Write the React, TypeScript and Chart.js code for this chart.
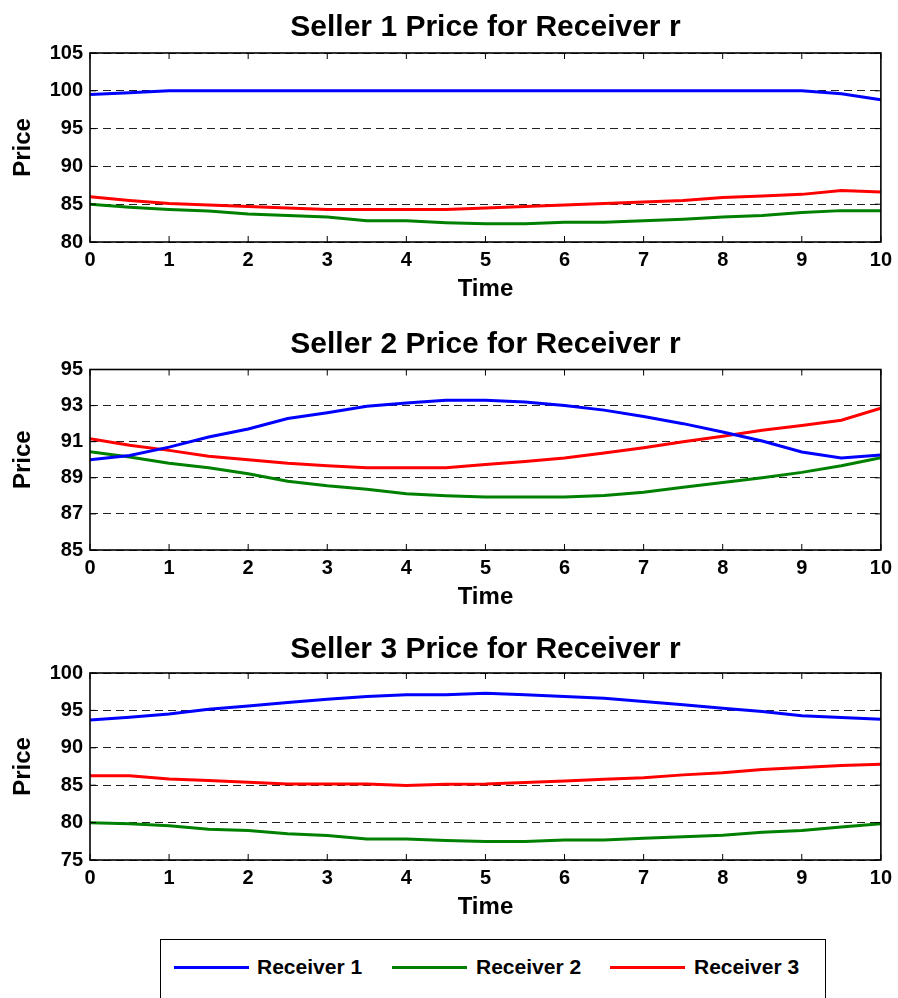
import React, { useEffect, useRef } from "react";
import { Chart, registerables } from "chart.js";

Chart.register(...registerables);

const FONT = "'Liberation Sans', Arial, Helvetica, sans-serif";

const times = [0, 0.5, 1, 1.5, 2, 2.5, 3, 3.5, 4, 4.5, 5, 5.5, 6, 6.5, 7, 7.5, 8, 8.5, 9, 9.5, 10];
const xTicks = [0, 1, 2, 3, 4, 5, 6, 7, 8, 9, 10];
const seriesNames = ["Receiver 1", "Receiver 2", "Receiver 3"];
const seriesColors = ["#0000ff", "#008000", "#ff0000"];

// Seller 1
const s1Receiver1 = [99.5, 99.75, 100, 100, 100, 100, 100, 100, 100, 100, 100, 100, 100, 100, 100, 100, 100, 100, 100, 99.6, 98.8];
const s1Receiver2 = [85.0, 84.6, 84.3, 84.1, 83.7, 83.5, 83.3, 82.8, 82.8, 82.55, 82.4, 82.4, 82.6, 82.6, 82.8, 83.0, 83.3, 83.5, 83.9, 84.15, 84.15];
const s1Receiver3 = [86.0, 85.5, 85.1, 84.9, 84.7, 84.5, 84.3, 84.3, 84.3, 84.3, 84.5, 84.7, 84.9, 85.1, 85.3, 85.5, 85.9, 86.1, 86.3, 86.8, 86.6];

// Seller 2
const s2Receiver1 = [90.0, 90.24, 90.7, 91.26, 91.7, 92.28, 92.6, 92.96, 93.15, 93.3, 93.3, 93.2, 93.0, 92.75, 92.4, 92.0, 91.54, 91.04, 90.43, 90.1, 90.26];
const s2Receiver2 = [90.44, 90.15, 89.81, 89.56, 89.22, 88.81, 88.56, 88.37, 88.11, 88.0, 87.93, 87.93, 87.93, 88.02, 88.2, 88.48, 88.74, 89.0, 89.3, 89.67, 90.11];
const s2Receiver3 = [91.17, 90.8, 90.52, 90.2, 90.0, 89.8, 89.67, 89.56, 89.56, 89.56, 89.74, 89.9, 90.1, 90.37, 90.67, 91.0, 91.3, 91.63, 91.9, 92.19, 92.85];

// Seller 3
const s3Receiver1 = [93.73, 94.1, 94.53, 95.16, 95.6, 96.06, 96.5, 96.86, 97.09, 97.09, 97.3, 97.1, 96.86, 96.64, 96.2, 95.74, 95.3, 94.85, 94.27, 94.04, 93.82];
const s3Receiver2 = [79.97, 79.84, 79.57, 79.12, 78.94, 78.5, 78.27, 77.82, 77.82, 77.6, 77.46, 77.46, 77.69, 77.69, 77.9, 78.1, 78.3, 78.7, 78.94, 79.4, 79.84];
const s3Receiver3 = [86.25, 86.25, 85.84, 85.62, 85.4, 85.17, 85.17, 85.17, 84.95, 85.13, 85.17, 85.35, 85.57, 85.8, 86.0, 86.38, 86.65, 87.1, 87.37, 87.63, 87.81];

const s1YTicks = [80, 85, 90, 95, 100, 105];
const s2YTicks = [85, 87, 89, 91, 93, 95];
const s3YTicks = [75, 80, 85, 90, 95, 100];

const framePlugin = {
  id: "frameBox",
  afterDatasetsDraw(chart: any) {
    const { ctx, chartArea: a, scales } = chart;
    ctx.save();
    ctx.setLineDash([]);
    ctx.strokeStyle = "#000";
    ctx.lineWidth = 1;
    ctx.beginPath();
    for (const v of xTicks) {
      const x = scales.x.getPixelForValue(v);
      ctx.moveTo(x, a.bottom);
      ctx.lineTo(x, a.bottom - 6);
      ctx.moveTo(x, a.top);
      ctx.lineTo(x, a.top + 6);
    }
    const yt = chart.options.yTickList as number[];
    for (const v of yt) {
      const y = scales.y.getPixelForValue(v);
      ctx.moveTo(a.left, y);
      ctx.lineTo(a.left + 6, y);
      ctx.moveTo(a.right, y);
      ctx.lineTo(a.right - 6, y);
    }
    ctx.stroke();
    ctx.lineWidth = 1.6;
    ctx.strokeRect(a.left, a.top, a.right - a.left, a.bottom - a.top);
    ctx.restore();
  },
};

type PanelProps = {
  title: string;
  top: number;
  height: number;
  titlePadTop: number;
  titlePadBottom: number;
  yTicks: number[];
  data: number[][];
};

function Panel({ title, top, height, titlePadTop, titlePadBottom, yTicks, data }: PanelProps) {
  const ref = useRef<HTMLCanvasElement | null>(null);
  useEffect(() => {
    if (!ref.current) return;
    const yMin = yTicks[0];
    const yMax = yTicks[yTicks.length - 1];
    const step = yTicks[1] - yTicks[0];
    const chart = new Chart(ref.current, {
      type: "line",
      data: {
        datasets: data.map((vals, i) => ({
          label: seriesNames[i],
          data: times.map((t, j) => ({ x: t, y: vals[j] })),
          borderColor: seriesColors[i],
          backgroundColor: seriesColors[i],
          borderWidth: 3,
          pointRadius: 0,
          tension: 0,
          fill: false,
        })),
      },
      options: {
        responsive: false,
        animation: false,
        events: [],
        yTickList: yTicks,
        layout: { padding: { left: 0, right: 15, top: 0, bottom: 0 } },
        plugins: {
          legend: { display: false },
          tooltip: { enabled: false },
          title: {
            display: true,
            text: title,
            fullSize: false,
            color: "#000",
            font: { family: FONT, size: 30, weight: "bold" },
            padding: { top: titlePadTop, bottom: titlePadBottom },
          },
        },
        scales: {
          x: {
            type: "linear",
            min: 0,
            max: 10,
            grid: { display: false, drawTicks: false },
            border: { display: false },
            ticks: {
              stepSize: 1,
              color: "#000",
              padding: 6,
              maxRotation: 0,
              font: { family: FONT, size: 20, weight: "bold" },
            },
            title: {
              display: true,
              text: "Time",
              color: "#000",
              font: { family: FONT, size: 24, weight: "bold" },
              padding: { top: 0, bottom: 6 },
            },
            afterFit: (s: any) => {
              s.height = 68;
            },
          },
          y: {
            type: "linear",
            min: yMin,
            max: yMax,
            grid: { color: "#222", lineWidth: 1, drawTicks: false },
            border: { display: false, dash: [8, 5] },
            ticks: {
              stepSize: step,
              color: "#000",
              padding: 7,
              font: { family: FONT, size: 20, weight: "bold" },
            },
            title: {
              display: true,
              text: "Price",
              color: "#000",
              font: { family: FONT, size: 24, weight: "bold" },
              padding: { top: 9, bottom: 0 },
            },
            afterFit: (s: any) => {
              s.width = 90;
            },
          },
        },
      } as any,
      plugins: [framePlugin],
    });
    return () => chart.destroy();
  }, []);
  return (
    <div style={{ position: "absolute", left: 0, top, width: 898, height }}>
      <canvas ref={ref} width={898} height={height} style={{ width: 898, height }} />
    </div>
  );
}

export default function App() {
  const legendItems = [
    { line: 174, text: 257 },
    { line: 392, text: 476 },
    { line: 610, text: 694 },
  ];
  return (
    <div
      style={{
        position: "absolute",
        left: 0,
        top: 0,
        width: 898,
        height: 998,
        overflow: "hidden",
        background: "#fff",
      }}
    >
      <Panel
        title="Seller 1 Price for Receiver r"
        top={0}
        height={310}
        titlePadTop={9.5}
        titlePadBottom={7.5}
        yTicks={s1YTicks}
        data={[s1Receiver1, s1Receiver2, s1Receiver3]}
      />
      <Panel
        title="Seller 2 Price for Receiver r"
        top={310}
        height={308}
        titlePadTop={16.5}
        titlePadBottom={7}
        yTicks={s2YTicks}
        data={[s2Receiver1, s2Receiver2, s2Receiver3]}
      />
      <Panel
        title="Seller 3 Price for Receiver r"
        top={618}
        height={310}
        titlePadTop={13.3}
        titlePadBottom={5.7}
        yTicks={s3YTicks}
        data={[s3Receiver1, s3Receiver2, s3Receiver3]}
      />
      <div
        style={{
          position: "absolute",
          left: 160,
          top: 939,
          width: 666,
          height: 100,
          border: "1.5px solid #000",
          boxSizing: "border-box",
        }}
      />
      {legendItems.map((it, i) => (
        <React.Fragment key={i}>
          <div
            style={{
              position: "absolute",
              left: it.line,
              top: 966,
              width: 75,
              height: 3,
              background: seriesColors[i],
            }}
          />
          <div
            style={{
              position: "absolute",
              left: it.text,
              top: 955,
              fontFamily: FONT,
              fontWeight: "bold",
              fontSize: 21,
              lineHeight: "24px",
              color: "#000",
              whiteSpace: "nowrap",
            }}
          >
            {seriesNames[i]}
          </div>
        </React.Fragment>
      ))}
    </div>
  );
}
